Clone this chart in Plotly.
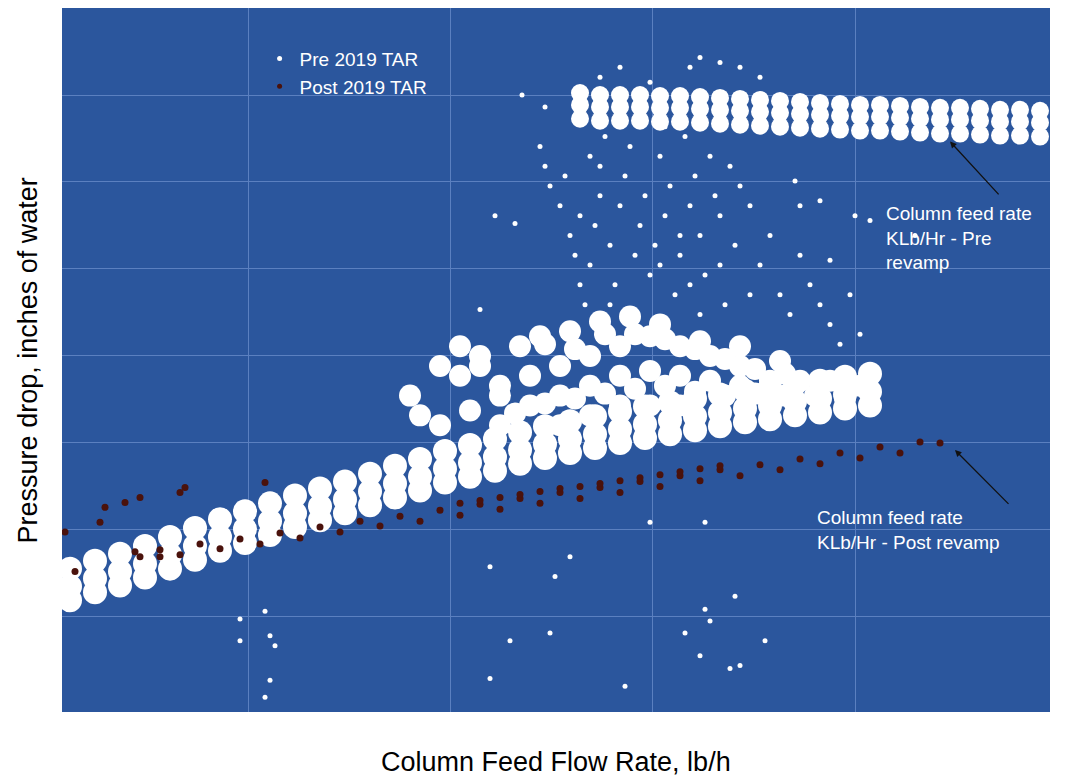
import plotly.graph_objects as go

# values (flow units, pressure-drop units; y axis drawn reversed)
core_x = [70,95,120,145,170,195,220,245,270,295,320,345,370,395,420,445,470,495,520,545,570,595,620,645,670,695,720,745,770,795,820,845,870]
core_mid = [585,577,570,562,553,544,535,527,519,511,504,497,489,481,474,466,460,454,447,441,436,431,426,421,417,413,409,405,402,398,395,391,388]
core_up = [567,559,552,544,535,526,517,509,501,493,486,479,471,463,456,448,442,436,429,423,418,413,408,403,399,395,391,387,384,380,377,373,370]
core_lo = [599,591,584,576,567,558,549,541,533,525,518,511,503,495,488,480,474,468,461,455,450,445,440,435,431,427,423,419,416,412,409,405,402]

cloud_x = [440,470,500,500,530,530,560,560,560,590,590,590,620,620,620,650,650,650,680,680,680,710,710,740,740,770,800,830,860,460,480,520,540,570,600,630,660,700,740,780,420,410,440,460,480,500,
           515,545,575,605,635,665,695,725,755,785,815,845,545,575,605,635,665,695,725,755,785]
cloud_y = [422,407,392,422,402,372,392,362,422,382,352,412,372,342,402,367,332,402,372,342,402,377,352,382,362,377,377,377,382,372,362,342,332,327,317,312,320,337,342,357,412,392,362,342,352,382,
           410,400,395,390,385,382,388,392,390,392,392,395,340,345,330,330,335,345,355,365,370]

top_x = [580,600,620,640,660,680,700,720,740,760,780,800,820,840,860,880,900,920,940,960,980,1000,1020,1040]
top_mid = [98,100,100,100,101,101,102,103,104,105,106,107,108,109,110,110,111,112,113,113,114,115,115,116]
top_up = [86,88,88,88,89,89,90,91,92,93,94,95,96,97,98,98,99,100,101,101,102,103,103,104]
top_lo = [112,114,114,114,115,115,116,117,118,119,120,121,122,123,124,124,125,126,127,127,128,129,129,130]

sc_x = [545,540,545,550,560,570,575,580,585,590,595,600,600,605,610,615,620,625,630,635,640,645,650,655,660,665,670,675,680,685,690,695,700,705,710,715,720,725,730,735,740,750,760,770,780,790,800,810,820,830,840,600,620,650,690,700,720,740,760,630,660,700,575,610,690,645,665,700,620,580,565,590,660,720,750,680,
        522,495,515,480,240,240,265,270,275,270,265,240,490,570,555,490,510,550,625,650,705,705,710,685,700,730,740,765,735,830,855,870,915,850,860,800,795,820]
sc_y = [100,140,160,180,200,230,250,280,300,260,220,190,160,130,240,280,200,170,140,250,220,190,270,240,150,210,180,290,250,130,200,170,230,270,150,190,210,300,160,240,180,200,260,230,290,310,250,280,300,320,340,70,60,75,60,50,55,60,70,320,320,310,330,300,280,110,120,120,110,210,170,150,260,260,290,230,
        88,210,218,305,618,640,610,635,645,680,697,525,565,555,575,678,640,632,686,520,520,608,620,632,655,668,665,640,595,255,210,215,230,290,330,200,175,195]

post_x = [140,160,180,200,220,240,260,280,300,320,340,360,380,400,420,440,460,480,500,520,540,560,580,600,620,640,660,680,700,720,740,760,780,800,820,840,860,880,900,920,940,
          460,480,500,520,540,560,580,600,620,640,660,680,700,720,65,75,100,105,125,140,180,185,265,135,160]
post_y = [555,548,553,542,547,537,542,531,536,525,530,519,524,514,519,508,513,502,507,496,501,490,496,485,490,479,484,473,478,467,473,462,467,456,461,450,455,444,450,439,440,
          501,498,495,492,489,486,484,481,478,475,472,469,466,463,530,570,520,505,500,495,490,485,480,550,555]

W = "white"
D = "#4a120c"
fig = go.Figure()
for ys in (core_mid, core_up, core_lo):
    fig.add_trace(go.Scatter(x=core_x, y=ys, mode="markers", marker=dict(color=W, size=24), showlegend=False))
fig.add_trace(go.Scatter(x=cloud_x, y=cloud_y, mode="markers", marker=dict(color=W, size=22), showlegend=False))
for ys in (top_mid, top_up, top_lo):
    fig.add_trace(go.Scatter(x=top_x, y=ys, mode="markers", marker=dict(color=W, size=18), showlegend=False))
fig.add_trace(go.Scatter(x=sc_x, y=sc_y, mode="markers", marker=dict(color=W, size=5), showlegend=False))
fig.add_trace(go.Scatter(x=post_x, y=post_y, mode="markers", marker=dict(color=D, size=7), showlegend=False))
fig.add_trace(go.Scatter(x=[None], y=[None], mode="markers", name="Pre 2019 TAR", marker=dict(color=W, size=5)))
fig.add_trace(go.Scatter(x=[None], y=[None], mode="markers", name="Post 2019 TAR", marker=dict(color=D, size=5)))

grid = "#5b80c0"
fig.update_layout(
    width=1073, height=771, paper_bgcolor="white", plot_bgcolor="#2b569d",
    margin=dict(l=54, r=31, t=0, b=67),
    font=dict(family="Liberation Sans, Arial", size=19, color="white"),
    xaxis=dict(range=[62, 1050], tickvals=[248,450,652,855,1050], showticklabels=False,
               gridcolor=grid, zeroline=False, showline=False),
    yaxis=dict(range=[712, 0], tickvals=[88,175,263,351,439,527,615], showticklabels=False,
               gridcolor=grid, zeroline=False, showline=False),
    legend=dict(x=0.2, y=0.955, xanchor="left", yanchor="top", bgcolor="rgba(0,0,0,0)",
                font=dict(size=19, color="white"), tracegroupgap=0, itemwidth=30),
    annotations=[
        dict(text="Column Feed Flow Rate, lb/h", xref="paper", yref="paper", x=0.5, y=-0.071,
             showarrow=False, font=dict(size=27, color="black"), yanchor="middle"),
        dict(text="Pressure drop, inches of water", xref="paper", yref="paper", x=-0.034, y=0.5,
             textangle=-90, showarrow=False, font=dict(size=27, color="black"), xanchor="center"),
        dict(text="Column feed rate<br>KLb/Hr - Pre<br>revamp", x=884, y=195, xanchor="left", yanchor="top",
             align="left", showarrow=False, font=dict(size=19, color="white")),
        dict(text="", x=950, y=135, ax=1000, ay=190, axref="x", ayref="y", showarrow=True,
             arrowhead=2, arrowsize=1, arrowwidth=1.3, arrowcolor="#111"),
        dict(text="Column feed rate<br>KLb/Hr - Post revamp", x=815, y=503, xanchor="left", yanchor="top",
             align="left", showarrow=False, font=dict(size=19, color="white")),
        dict(text="", x=955, y=447, ax=1010, ay=503, axref="x", ayref="y", showarrow=True,
             arrowhead=2, arrowsize=1, arrowwidth=1.3, arrowcolor="#111"),
    ],
)
fig.write_html("out.html")
